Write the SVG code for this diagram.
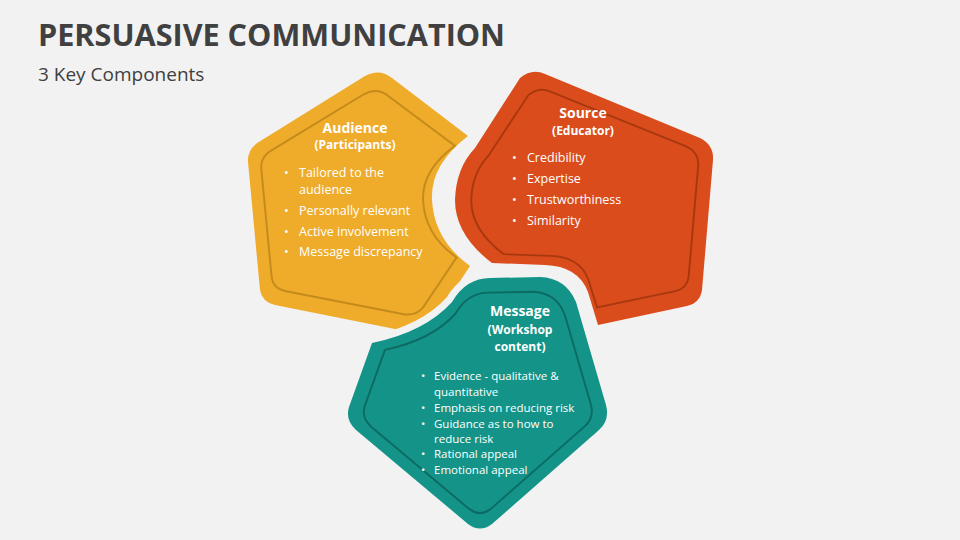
<svg xmlns="http://www.w3.org/2000/svg" width="960" height="540" viewBox="0 0 960 540">
<style>
text{font-family:"Open Sans","Liberation Sans",sans-serif;}
.t{font-weight:bold;fill:#fff;text-anchor:middle}
.b{fill:#fff;font-size:12.5px}
.m{fill:#fff;font-size:11.5px}
.in{fill:none;stroke-width:2.2}
</style>
<rect width="960" height="540" fill="#f2f2f2"/>
<text x="38" y="46" font-size="31" font-weight="bold" fill="#404040" textLength="467" lengthAdjust="spacingAndGlyphs">PERSUASIVE COMMUNICATION</text>
<text x="38" y="81" font-size="19" fill="#404040">3 Key Components</text>
<g id="audience">
<path d="M262,140 L365,76 Q380,68 392,78 L468,136 Q430,165 432,200 Q434,240 470,266 L432,324 Q424,334 410,332 L275,305 Q262,302 260,290 L248,162 Q247,148 262,140 Z" fill="#efab2a"/>
<path class="in" stroke="#c48b1c" transform="translate(358,205) scale(0.88,0.86) translate(-358,-205)" d="M262,140 L365,76 Q380,68 392,78 L468,136 Q430,165 432,200 Q434,240 470,266 L432,324 Q424,334 410,332 L275,305 Q262,302 260,290 L248,162 Q247,148 262,140 Z"/>
<text class="t" x="355" y="133" font-size="14">Audience</text>
<text class="t" x="355" y="149" font-size="12">(Participants)</text>
<g class="b"><text x="284" y="177">•</text><text x="299" y="177">Tailored to the</text><text x="299" y="194">audience</text>
<text x="284" y="215">•</text><text x="299" y="215">Personally relevant</text>
<text x="284" y="236">•</text><text x="299" y="236">Active involvement</text>
<text x="284" y="256">•</text><text x="299" y="256">Message discrepancy</text></g>
</g>
<g id="source">
<path d="M520,78 Q532,68 545,74 L700,138 Q714,145 713,160 L702,290 Q700,303 687,306 L598,325 L588,292 Q578,266 545,265 L492,263 Q455,235 455,200 Q456,168 475,148 Z" fill="#da4c1c"/>
<path class="in" stroke="#a8380f" transform="translate(590,200) scale(0.88,0.86) translate(-590,-200)" d="M520,78 Q532,68 545,74 L700,138 Q714,145 713,160 L702,290 Q700,303 687,306 L598,325 L588,292 Q578,266 545,265 L492,263 Q455,235 455,200 Q456,168 475,148 Z"/>
<text class="t" x="583" y="118" font-size="14">Source</text>
<text class="t" x="583" y="135" font-size="12">(Educator)</text>
<g class="b"><text x="512" y="162">•</text><text x="527" y="162">Credibility</text>
<text x="512" y="183">•</text><text x="527" y="183">Expertise</text>
<text x="512" y="204">•</text><text x="527" y="204">Trustworthiness</text>
<text x="512" y="225">•</text><text x="527" y="225">Similarity</text></g>
</g>
<g id="message">
<path d="M372,343 Q425,332 452,302 Q466,278 490,278 L540,277 Q566,278 576,302 L606,405 Q610,420 599,430 L492,524 Q480,533 468,524 L356,430 Q345,420 349,407 Z" fill="#149488" stroke="#f2f2f2" stroke-width="14" stroke-linejoin="round" paint-order="stroke"/>
<path class="in" stroke="#0c6b62" transform="translate(480,400) scale(0.88,0.88) translate(-480,-400)" d="M372,343 Q425,332 452,302 Q466,278 490,278 L540,277 Q566,278 576,302 L606,405 Q610,420 599,430 L492,524 Q480,533 468,524 L356,430 Q345,420 349,407 Z"/>
<text class="t" x="520" y="316" font-size="14">Message</text>
<text class="t" x="520" y="334" font-size="12">(Workshop</text>
<text class="t" x="520" y="351" font-size="12">content)</text>
<g class="m"><text x="421" y="380">•</text><text x="434" y="380">Evidence - qualitative &amp;</text><text x="434" y="396">quantitative</text>
<text x="421" y="412">•</text><text x="434" y="412">Emphasis on reducing risk</text>
<text x="421" y="428">•</text><text x="434" y="428">Guidance as to how to</text><text x="434" y="443">reduce risk</text>
<text x="421" y="458">•</text><text x="434" y="458">Rational appeal</text>
<text x="421" y="474">•</text><text x="434" y="474">Emotional appeal</text></g>
</g>
<g id="connectors"/>
</svg>
